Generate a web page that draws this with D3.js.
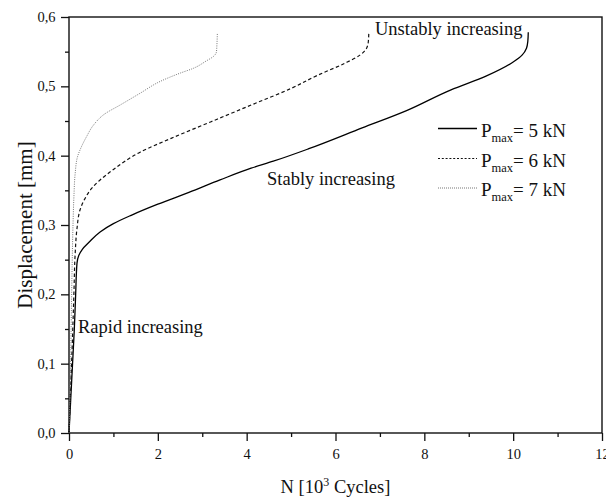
<!DOCTYPE html>
<html><head><meta charset="utf-8">
<script src="https://cdn.jsdelivr.net/npm/d3@7"></script>
<style>
html,body{margin:0;padding:0;background:#fff;}
svg text{font-family:"Liberation Serif","Times New Roman",serif;fill:#111;}
</style></head>
<body><svg id="c" width="606" height="499"></svg>
<script>
// ---- data ----
const xTicks = [0, 2, 4, 6, 8, 10, 12];
const yTicks = [0, 0.1, 0.2, 0.3, 0.4, 0.5, 0.6];
const seriesNames = ["5 kN", "6 kN", "7 kN"];

const cycles5 = [0, 0.04, 0.08, 0.12, 0.15, 0.18, 0.22, 0.3, 0.45, 0.7, 1.0, 1.4, 2.0, 2.7, 3.4, 4.1, 4.6, 5.4, 6.6, 7.6, 8.6, 9.4, 10.0, 10.2, 10.3, 10.33, 10.34];
const disp5   = [0, 0.05, 0.10, 0.15, 0.20, 0.245, 0.256, 0.265, 0.275, 0.29, 0.302, 0.314, 0.33, 0.347, 0.365, 0.382, 0.392, 0.41, 0.44, 0.465, 0.495, 0.515, 0.535, 0.545, 0.555, 0.565, 0.578];

const cycles6 = [0, 0.04, 0.08, 0.11, 0.14, 0.18, 0.25, 0.35, 0.5, 0.7, 1.0, 1.6, 2.3, 3.2, 4.1, 5.0, 5.6, 6.2, 6.55, 6.7, 6.74, 6.75];
const disp6   = [0, 0.07, 0.14, 0.2, 0.26, 0.295, 0.322, 0.337, 0.352, 0.365, 0.38, 0.405, 0.425, 0.449, 0.473, 0.497, 0.516, 0.533, 0.545, 0.555, 0.565, 0.579];

const cycles7 = [0, 0.03, 0.05, 0.07, 0.09, 0.11, 0.14, 0.19, 0.26, 0.4, 0.55, 0.8, 1.15, 1.6, 2.05, 2.5, 2.8, 3.1, 3.25, 3.32, 3.33, 3.34];
const disp7   = [0, 0.08, 0.16, 0.24, 0.3, 0.34, 0.375, 0.398, 0.41, 0.428, 0.444, 0.46, 0.473, 0.49, 0.507, 0.519, 0.526, 0.537, 0.543, 0.55, 0.56, 0.576];

const annotations = ["Unstably increasing", "Stably increasing", "Rapid increasing"];

// ---- layout ----
const svg = d3.select("#c");
const L = 69, R = 602, T = 17, B = 433;
const x = d3.scaleLinear().domain([0, 12]).range([L, R]);
const y = d3.scaleLinear().domain([0, 0.6]).range([B, T]);
const fmt = d => d3.format(".1f")(d).replace(".", ",");

// minor ticks
const xMinor = d3.range(1, 12, 2);
const yMinor = d3.range(0.05, 0.6, 0.1);

const gx = svg.append("g").attr("transform", `translate(0,${B})`)
  .call(d3.axisBottom(x).tickValues(xTicks).tickSize(8).tickPadding(8).tickFormat(d3.format("d")));
gx.append("g").call(d3.axisBottom(x).tickValues(xMinor).tickSize(4).tickFormat(""));
const gy = svg.append("g").attr("transform", `translate(${L},0)`)
  .call(d3.axisLeft(y).tickValues(yTicks).tickSize(8).tickPadding(5.5).tickFormat(fmt));
gy.append("g").call(d3.axisLeft(y).tickValues(yMinor).tickSize(4).tickFormat(""));
svg.selectAll(".tick line").attr("stroke", "#111").attr("stroke-width", 1.3);
svg.selectAll(".tick text").attr("font-size", 14.5).attr("fill", "#222");
svg.selectAll(".domain").remove();
svg.append("rect").attr("x", L).attr("y", T).attr("width", R - L).attr("height", B - T)
  .attr("fill", "none").attr("stroke", "#111").attr("stroke-width", 1.4);

// ---- lines ----
const line = d3.line().x(d => x(d[0])).y(d => y(d[1])).curve(d3.curveMonotoneY);
const series = [
  {pts: d3.zip(cycles5, disp5), dash: null, color: "#000", w: 1.3},
  {pts: d3.zip(cycles6, disp6), dash: "3.5,2.5", color: "#111", w: 1.2},
  {pts: d3.zip(cycles7, disp7), dash: "1,1.3", color: "#777", w: 1.0}
];
series.forEach(s => {
  svg.append("path").attr("d", line(s.pts)).attr("fill", "none")
    .attr("stroke", s.color).attr("stroke-width", s.w)
    .attr("stroke-dasharray", s.dash);
});

// ---- legend ----
const legY = [128.5, 158.5, 188];
series.forEach((s, i) => {
  svg.append("line").attr("x1", 438).attr("x2", 477).attr("y1", legY[i]).attr("y2", legY[i])
    .attr("stroke", s.color).attr("stroke-width", s.w).attr("stroke-dasharray", i === 0 ? null : (i === 1 ? "2,1.8" : "1,1"));
  const t = svg.append("text").attr("x", 481).attr("y", legY[i] + 8).attr("font-size", 19);
  t.append("tspan").text("P");
  t.append("tspan").attr("font-size", 12.5).attr("dy", 5).text("max");
  t.append("tspan").attr("dy", -5).text("= " + seriesNames[i]);
});

// ---- annotations ----
svg.append("text").attr("x", 375).attr("y", 35).attr("font-size", 18.5).text(annotations[0]);
svg.append("text").attr("x", 267).attr("y", 185).attr("font-size", 18.5).text(annotations[1]);
svg.append("text").attr("x", 78).attr("y", 333).attr("font-size", 18.5).text(annotations[2]);

// ---- axis titles ----
const xt = svg.append("text").attr("x", (L + R) / 2).attr("y", 493).attr("text-anchor", "middle").attr("font-size", 18.5);
xt.append("tspan").text("N [10");
xt.append("tspan").attr("font-size", 12).attr("dy", -7).text("3");
xt.append("tspan").attr("dy", 7).text(" Cycles]");

svg.append("text").attr("transform", `translate(32,${(T + B) / 2}) rotate(-90)`)
  .attr("text-anchor", "middle").attr("font-size", 21).text("Displacement [mm]");
</script></body></html>
